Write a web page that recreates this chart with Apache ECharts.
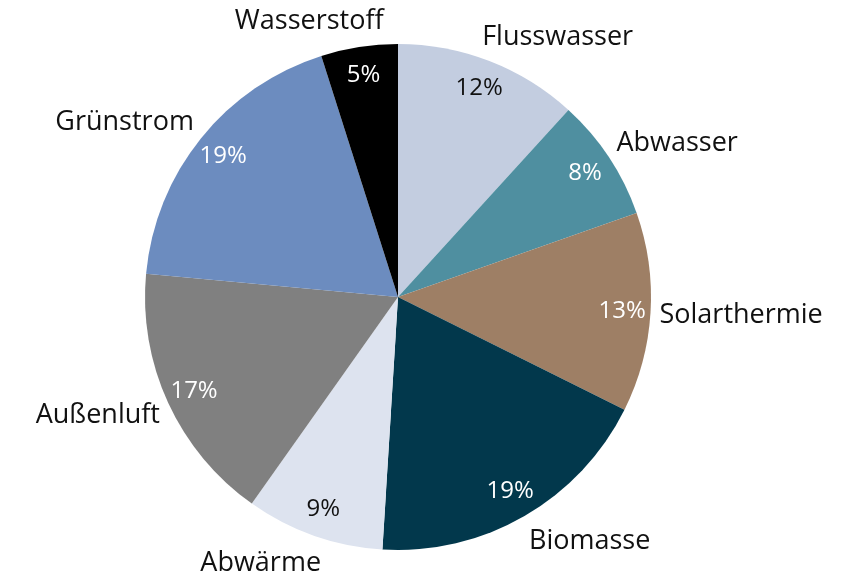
<!DOCTYPE html>
<html>
<head>
<meta charset="utf-8">
<script src="https://cdn.jsdelivr.net/npm/echarts@6/dist/echarts.min.js"></script>
<style>
  html, body { margin: 0; padding: 0; background: #fff; }
  #chart { width: 848px; height: 577px; }
</style>
</head>
<body>
<div id="chart"></div>
<script>
// Anteile der Wärmequellen (in %), im Uhrzeigersinn ab 12 Uhr
const categories = ['Flusswasser', 'Abwasser', 'Solarthermie', 'Biomasse', 'Abwärme', 'Außenluft', 'Grünstrom', 'Wasserstoff'];
const shares = [12, 8, 13, 19, 9, 17, 19, 5];

const colors = ['#c3cde0', '#4f8fa0', '#9e7f65', '#02384c', '#dde3ef', '#808080', '#6c8cbf', '#000000'];
const valueLabelColors = ['#111', '#fff', '#fff', '#fff', '#111', '#fff', '#fff', '#fff'];

const FONT = '"Open Sans", Lato, sans-serif';
const CENTER = [398, 297];
const R = 253;

const total = shares.reduce((a, b) => a + b, 0);
// mittlerer Winkel jedes Segments (0 = oben, im Uhrzeigersinn)
const midAngles = [];
let acc = 0;
shares.forEach(v => { midAngles.push((acc + v / 2) / total * Math.PI * 2); acc += v; });

const data = categories.map((name, i) => ({ name, value: shares[i] }));

const chart = echarts.init(document.getElementById('chart'), null, { renderer: 'canvas' });
chart.setOption({
  backgroundColor: '#ffffff',
  animation: false,
  color: colors,
  series: [
    {
      // Segmente
      type: 'pie',
      center: CENTER,
      radius: [0, R],
      startAngle: 90,
      clockwise: true,
      silent: true,
      label: { show: false },
      labelLine: { show: false },
      itemStyle: { borderWidth: 0 },
      data: data
    },
    {
      // Prozentwerte am äußeren Rand der Segmente
      type: 'pie',
      center: CENTER,
      radius: [190, R],
      startAngle: 90,
      clockwise: true,
      silent: true,
      itemStyle: { color: 'rgba(0,0,0,0)', borderWidth: 0 },
      label: {
        show: true,
        position: 'inside',
        formatter: p => p.value + '%',
        fontFamily: FONT,
        fontSize: 24,
        color: '#fff'
      },
      labelLine: { show: false },
      data: data.map((d, i) => ({ ...d, label: { color: valueLabelColors[i] } }))
    },
    {
      // Kategorienamen außerhalb des Kreises
      type: 'pie',
      center: CENTER,
      radius: [0, R],
      startAngle: 90,
      clockwise: true,
      silent: true,
      avoidLabelOverlap: false,
      itemStyle: { color: 'rgba(0,0,0,0)', borderWidth: 0 },
      label: {
        show: true,
        position: 'outside',
        formatter: '{b}',
        fontFamily: FONT,
        fontSize: 27,
        color: '#111',
        distanceToLabelLine: 0
      },
      labelLine: { show: false, length: 9, length2: 0 },
      labelLayout: params => {
        const a = midAngles[params.dataIndex];
        const s = Math.sin(a), c = Math.cos(a);
        const w = params.labelRect.width, h = params.labelRect.height;
        const sign = s < 0 ? -1 : 1;
        const f = sign * Math.min(1, 0.5 + Math.abs(s));
        return { dx: (f - sign) * w / 2, dy: -c * (h / 2 + 5) + 1.5 };
      },
      data: data
    }
  ]
});
</script>
</body>
</html>
